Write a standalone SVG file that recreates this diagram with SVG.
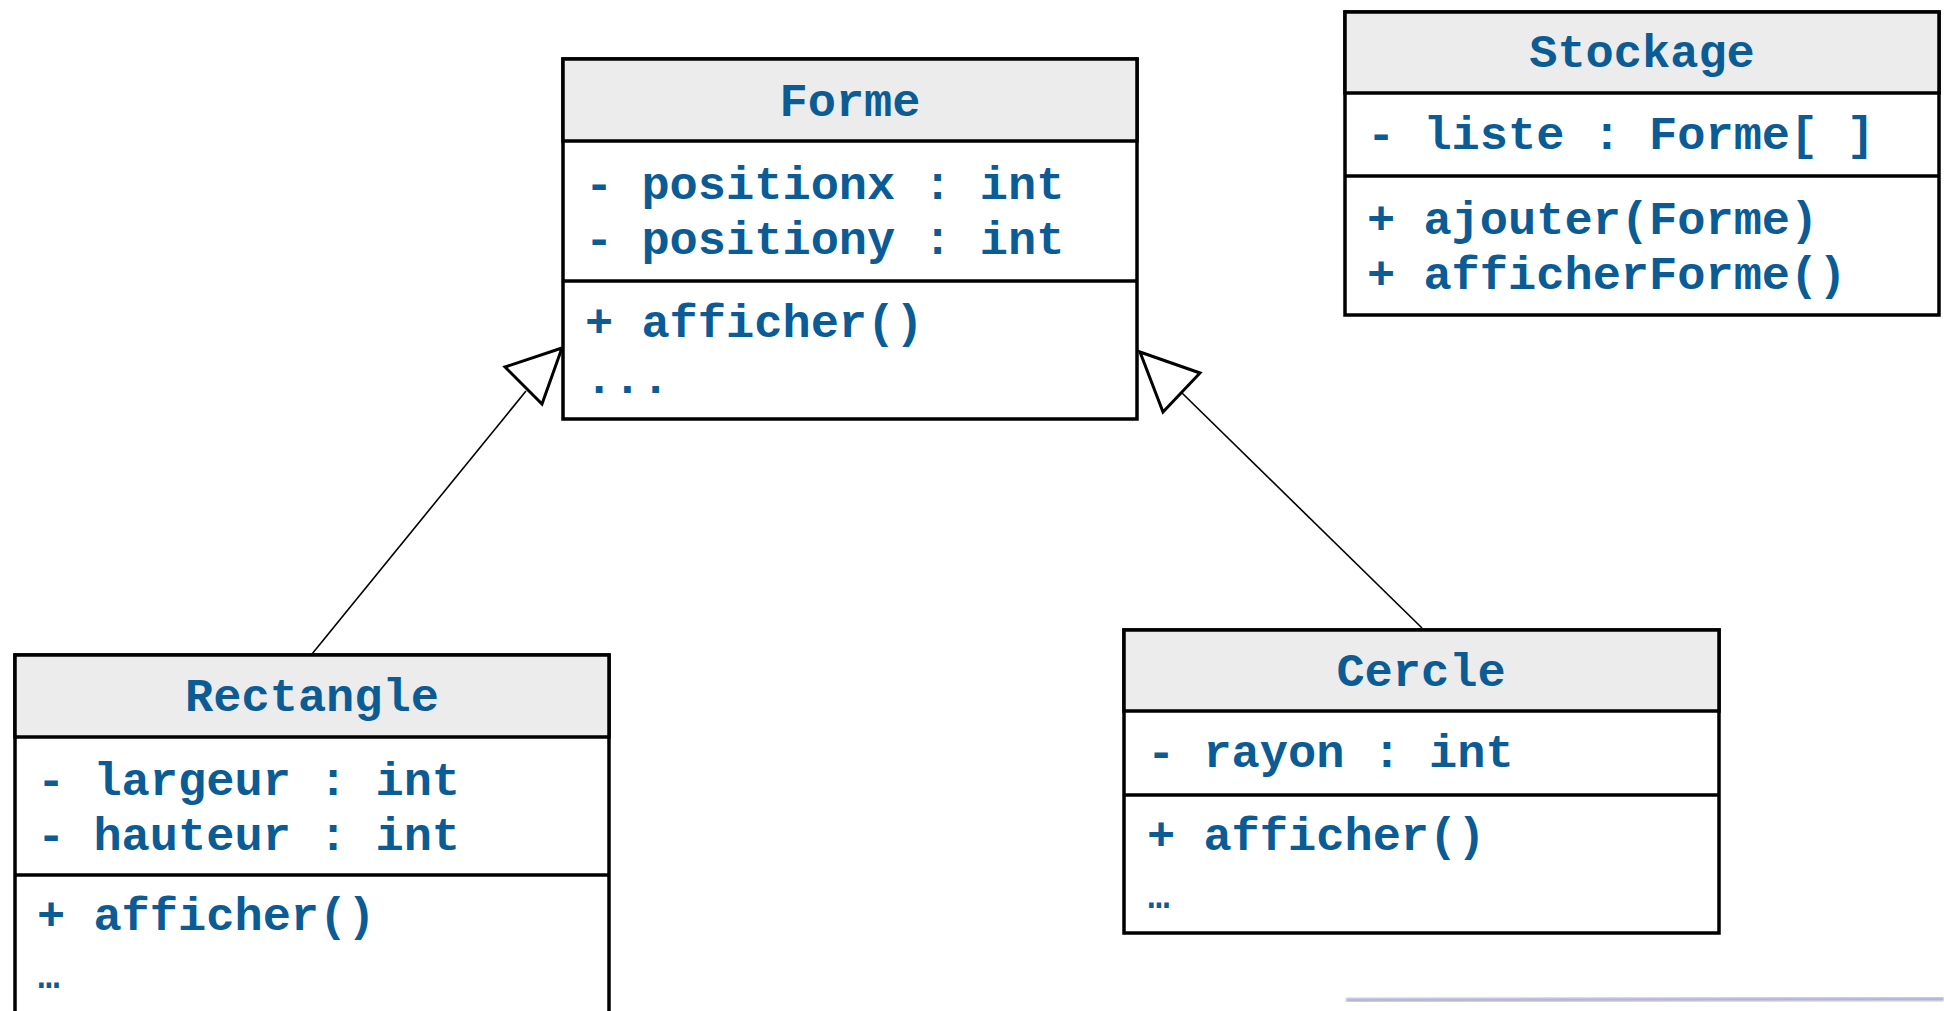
<svg xmlns="http://www.w3.org/2000/svg" width="1944" height="1011" viewBox="0 0 1944 1011">
<defs>
<style>
.box{fill:#ffffff;stroke:#000000;stroke-width:3.5}
.head{fill:#ececec;stroke:#000000;stroke-width:3.5}
.sep{stroke:#000000;stroke-width:3.5}
.t{font-family:"Liberation Mono","Courier New",monospace;font-weight:bold;font-size:47px;fill:#0b5c95}
.c{text-anchor:middle}
.e{font-size:36px}
.conn{stroke:#000000;stroke-width:1.6;fill:none}
.tri{fill:#ffffff;stroke:#000000;stroke-width:3;stroke-linejoin:miter}
</style>
<filter id="blur" x="-5%" y="-200%" width="110%" height="500%"><feGaussianBlur stdDeviation="1.2"/></filter>
</defs>
<rect width="1944" height="1011" fill="#ffffff"/>

<g id="connectors">
<line class="conn" x1="312" y1="654" x2="526" y2="391"/>
<polygon class="tri" points="562,348 505,367 542,404"/>
<line class="conn" x1="1422" y1="628" x2="1181" y2="392"/>
<polygon class="tri" points="1140,352 1200,373 1163,412"/>
</g>

<g id="forme">
<rect class="box" x="563" y="59" width="574" height="360"/>
<rect class="head" x="563" y="59" width="574" height="82"/>
<line class="sep" x1="563" y1="281" x2="1137" y2="281"/>
<text class="t c" x="850" y="116">Forme</text>
<text class="t" x="585" y="199" xml:space="preserve">- positionx : int</text>
<text class="t" x="585" y="254" xml:space="preserve">- positiony : int</text>
<text class="t" x="585" y="337" xml:space="preserve">+ afficher()</text>
<text class="t" x="585" y="393">...</text>
</g>

<g id="stockage">
<rect class="box" x="1345" y="12" width="594" height="303"/>
<rect class="head" x="1345" y="12" width="594" height="81"/>
<line class="sep" x1="1345" y1="176" x2="1939" y2="176"/>
<text class="t c" x="1642" y="67">Stockage</text>
<text class="t" x="1367" y="149" xml:space="preserve">- liste : Forme[ ]</text>
<text class="t" x="1367" y="234" xml:space="preserve">+ ajouter(Forme)</text>
<text class="t" x="1367" y="289" xml:space="preserve">+ afficherForme()</text>
</g>

<g id="rectangle">
<rect class="box" x="15" y="655" width="594" height="400"/>
<rect class="head" x="15" y="655" width="594" height="82"/>
<line class="sep" x1="15" y1="875" x2="609" y2="875"/>
<text class="t c" x="312" y="711">Rectangle</text>
<text class="t" x="37" y="795" xml:space="preserve">- largeur : int</text>
<text class="t" x="37" y="850" xml:space="preserve">- hauteur : int</text>
<text class="t" x="37" y="930" xml:space="preserve">+ afficher()</text>
<text class="t e" x="38" y="988">…</text>
</g>

<g id="cercle">
<rect class="box" x="1124" y="630" width="595" height="303"/>
<rect class="head" x="1124" y="630" width="595" height="81"/>
<line class="sep" x1="1124" y1="795" x2="1719" y2="795"/>
<text class="t c" x="1421" y="686">Cercle</text>
<text class="t" x="1147" y="767" xml:space="preserve">- rayon : int</text>
<text class="t" x="1147" y="850" xml:space="preserve">+ afficher()</text>
<text class="t e" x="1148" y="908">…</text>
</g>

<line x1="1346" y1="1000" x2="1944" y2="999" stroke="#9c9cc8" stroke-width="4" opacity="0.8" filter="url(#blur)"/>
</svg>
